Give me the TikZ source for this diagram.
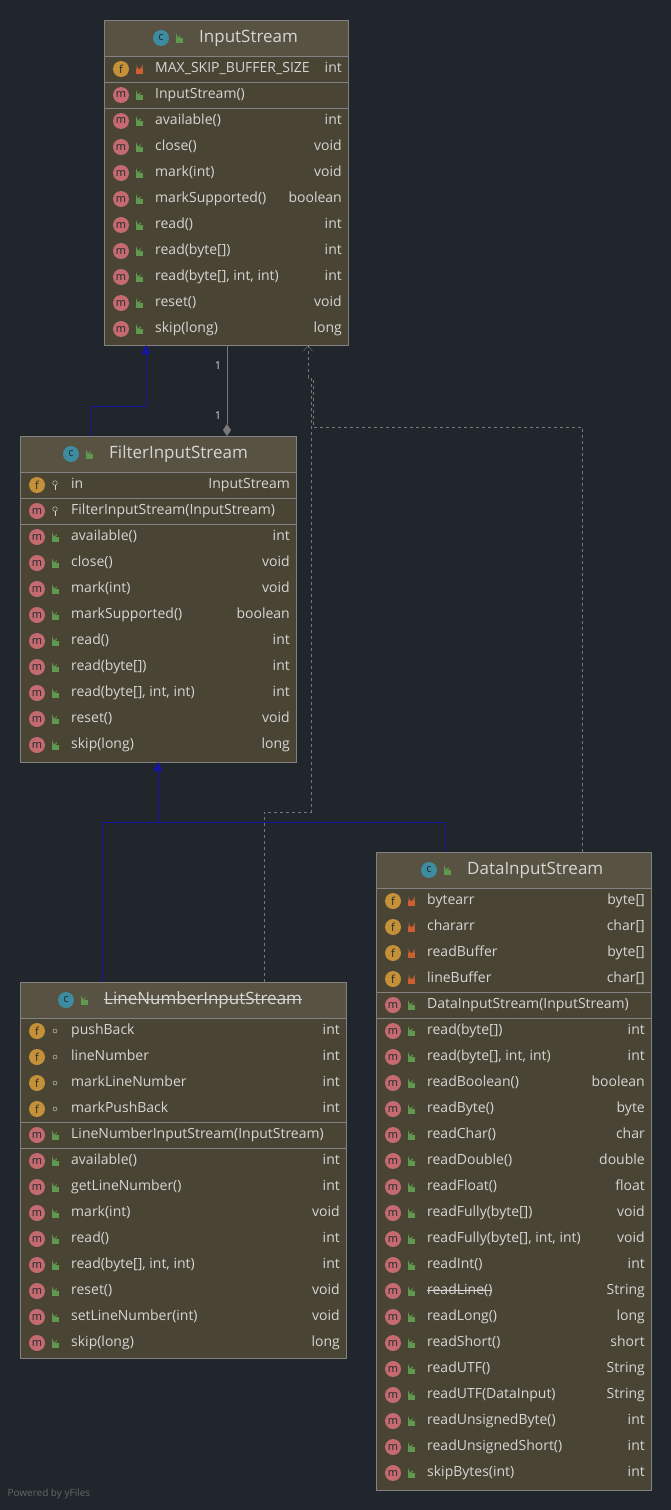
\documentclass[tikz,border=0pt]{standalone}
\usepackage{fontspec}
\setmainfont{Open Sans}
\usetikzlibrary{arrows.meta}
\definecolor{bgcol}{RGB}{33,38,44}
\definecolor{boxcol}{RGB}{73,68,52}
\definecolor{headcol}{RGB}{88,82,66}
\definecolor{rulecol}{RGB}{130,130,130}
\definecolor{txtcol}{RGB}{214,214,214}
\definecolor{mcol}{RGB}{196,106,112}
\definecolor{fcol}{RGB}{196,144,56}
\definecolor{ccol}{RGB}{62,140,160}
\definecolor{pubcol}{RGB}{96,152,80}
\definecolor{privcol}{RGB}{204,96,48}
\definecolor{inhcol}{RGB}{20,20,160}
\definecolor{depcol}{RGB}{120,120,120}
\tikzset{umlbox/.style={draw=rulecol,fill=boxcol}}
\tikzset{rowtext/.style={text=txtcol,font=\fontsize{14}{16}\selectfont,inner sep=0pt,text height=10pt,text depth=3pt}}
\tikzset{headtext/.style={text=txtcol,font=\fontsize{17}{19}\selectfont,inner sep=0pt,text height=12pt,text depth=4pt}}
\tikzset{inherit/.style={draw=inhcol,-{Triangle[length=9pt,width=9pt]}}}
\tikzset{depend/.style={draw=depcol,dashed,-{Straight Barb[length=6pt,width=9pt]}}}
% comma inside loop items
\newcommand{\cma}{,}
% struck-through text
\newsavebox\strkbox
\newcommand{\strk}[1]{\sbox\strkbox{#1}\rlap{\usebox\strkbox}\rule[0.5ex]{\wd\strkbox}{0.8pt}}
% icon: circle with letter
\newcommand{\umlicon}[4]{%
  \fill[#3] ({#1},{#2}) circle (8);
  \node[text=bgcol,font=\fontsize{11}{11}\selectfont,inner sep=0pt] at ({#1},{#2}) {#4};}
% access marks
\newcommand{\accpub}[2]{%
  \fill[pubcol] ({#1-3},{#2}) rectangle ({#1+4},{#2+5});
  \draw[pubcol,line width=1pt] ({#1-2.5},{#2}) -- ({#1-2.5},{#2-2.5}) arc (180:0:2);}
\newcommand{\accpriv}[2]{%
  \fill[privcol] ({#1-3},{#2}) rectangle ({#1+4},{#2+5});
  \draw[privcol,line width=1pt] ({#1-2},{#2}) -- ({#1-2},{#2-2}) arc (180:0:2.5) -- ({#1+3},{#2});}
\newcommand{\accpkg}[2]{\draw[txtcol] ({#1},{#2}) circle (2);}
\newcommand{\accprot}[2]{%
  \draw[txtcol] ({#1},{#2-2}) circle (2.3); \draw[txtcol] ({#1},{#2}) -- ({#1},{#2+5});}
% one member row: x0, x1, y, letter, colour, access, name, type
\newcommand{\umlrow}[8]{%
  \umlicon{#1+17}{#3}{#5}{#4}
  \csname acc#6\endcsname{#1+35}{#3}
  \node[rowtext,anchor=west] at ({#1+51},{#3}) {#7};
  \node[rowtext,anchor=east] at ({#2-6},{#3}) {#8};}
\newcommand{\umlsep}[3]{\draw[rulecol] (#1,#3) -- (#2,#3);}

\begin{document}
\begin{tikzpicture}[x=1pt,y=-1pt]
  \fill[bgcol] (0,0) rectangle (671,1510);
  \useasboundingbox (0,0) rectangle (671,1510);

  % InputStream
  \draw[umlbox] (104,20) rectangle (348,345);
  \draw[draw=rulecol,fill=headcol] (104,20) rectangle (348,56);
  \umlicon{161}{38}{ccol}{c} \accpub{179}{38}
  \node[headtext,anchor=west] (is) at (199,38) {InputStream};
  \umlrow{104}{348}{69}{f}{fcol}{priv}{MAX\_SKIP\_BUFFER\_SIZE}{int}
  \umlsep{104}{348}{82}
  \umlrow{104}{348}{95}{m}{mcol}{pub}{InputStream()}{}
  \umlsep{104}{348}{108}
  \foreach \nm/\ty [count=\i] in {available()/int,close()/void,mark(int)/void,
      markSupported()/boolean,read()/int,read(byte[])/int,read(byte[]\cma{} int\cma{} int)/int,
      reset()/void,skip(long)/long}
    {\pgfmathsetmacro\yy{108+(\i-0.5)*26}
     \umlrow{104}{348}{\yy}{m}{mcol}{pub}{\nm}{\ty}}

  % FilterInputStream
  \draw[umlbox] (20,436) rectangle (296,762);
  \draw[draw=rulecol,fill=headcol] (20,436) rectangle (296,472);
  \umlicon{71}{454}{ccol}{c} \accpub{89}{454}
  \node[headtext,anchor=west] (fis) at (109,454) {FilterInputStream};
  \umlrow{20}{296}{485}{f}{fcol}{prot}{in}{InputStream}
  \umlsep{20}{296}{498}
  \umlrow{20}{296}{511}{m}{mcol}{prot}{FilterInputStream(InputStream)}{}
  \umlsep{20}{296}{524}
  \foreach \nm/\ty [count=\i] in {available()/int,close()/void,mark(int)/void,
      markSupported()/boolean,read()/int,read(byte[])/int,read(byte[]\cma{} int\cma{} int)/int,
      reset()/void,skip(long)/long}
    {\pgfmathsetmacro\yy{524+(\i-0.5)*26}
     \umlrow{20}{296}{\yy}{m}{mcol}{pub}{\nm}{\ty}}

  % LineNumberInputStream
  \draw[umlbox] (20,982) rectangle (346,1358);
  \draw[draw=rulecol,fill=headcol] (20,982) rectangle (346,1018);
  \umlicon{66}{1000}{ccol}{c} \accpub{84}{1000}
  \node[headtext,anchor=west] (lnis) at (104,1000) {\strk{LineNumberInputStream}};
  \foreach \nm [count=\i] in {pushBack,lineNumber,markLineNumber,markPushBack}
    {\pgfmathsetmacro\yy{1018+(\i-0.5)*26}
     \umlrow{20}{346}{\yy}{f}{fcol}{pkg}{\nm}{int}}
  \umlsep{20}{346}{1122}
  \umlrow{20}{346}{1135}{m}{mcol}{pub}{LineNumberInputStream(InputStream)}{}
  \umlsep{20}{346}{1148}
  \foreach \nm/\ty [count=\i] in {available()/int,getLineNumber()/int,mark(int)/void,
      read()/int,read(byte[]\cma{} int\cma{} int)/int,reset()/void,setLineNumber(int)/void,skip(long)/long}
    {\pgfmathsetmacro\yy{1148+(\i-0.5)*26}
     \umlrow{20}{346}{\yy}{m}{mcol}{pub}{\nm}{\ty}}

  % DataInputStream
  \draw[umlbox] (376,852) rectangle (651,1490);
  \draw[draw=rulecol,fill=headcol] (376,852) rectangle (651,888);
  \umlicon{429}{870}{ccol}{c} \accpub{447}{870}
  \node[headtext,anchor=west] (dis) at (467,870) {DataInputStream};
  \foreach \nm/\ty [count=\i] in {bytearr/byte[],chararr/char[],readBuffer/byte[],lineBuffer/char[]}
    {\pgfmathsetmacro\yy{888+(\i-0.5)*26}
     \umlrow{376}{651}{\yy}{f}{fcol}{priv}{\nm}{\ty}}
  \umlsep{376}{651}{992}
  \umlrow{376}{651}{1005}{m}{mcol}{pub}{DataInputStream(InputStream)}{}
  \umlsep{376}{651}{1018}
  \foreach \nm/\ty [count=\i] in {read(byte[])/int,read(byte[]\cma{} int\cma{} int)/int,
      readBoolean()/boolean,readByte()/byte,readChar()/char,readDouble()/double,
      readFloat()/float,readFully(byte[])/void,readFully(byte[]\cma{} int\cma{} int)/void,
      readInt()/int,\strk{readLine()}/String,readLong()/long,readShort()/short,
      readUTF()/String,readUTF(DataInput)/String,readUnsignedByte()/int,
      readUnsignedShort()/int,skipBytes(int)/int}
    {\pgfmathsetmacro\yy{1018+(\i-0.5)*26}
     \umlrow{376}{651}{\yy}{m}{mcol}{pub}{\nm}{\ty}}

  % connector anchors
  \coordinate (isA) at (146,345);
  \coordinate (isB) at (227,345);
  \coordinate (isC) at (308,345);
  \coordinate (fisA) at (90,436);
  \coordinate (fisB) at (227,436);
  \coordinate (fisC) at (158,762);
  \coordinate (lnisA) at (102,982);
  \coordinate (lnisB) at (264,982);
  \coordinate (disA) at (444,852);
  \coordinate (disB) at (582,852);

  % inheritance
  \draw[inherit] (fisA) -- (90,406) -- (146,406) -- (isA);
  \draw[draw=inhcol] (lnisA) -- (102,822) -- (444,822) -- (disA);
  \draw[inherit] (158,822) -- (fisC);
  % composition
  \draw[depcol,-{Straight Barb[length=6pt,width=9pt]},{Diamond[length=12pt,width=8pt]}-] (fisB) -- (isB);
  \node[text=txtcol,font=\fontsize{11}{11}\selectfont] (one1) at (218,366) {1};
  \node[text=txtcol,font=\fontsize{11}{11}\selectfont] (one2) at (218,416) {1};
  % dependencies
  \draw[depend] (lnisB) -- (264,812) -- (311,812) -- (311,378) -- (308,378) -- (isC);
  \draw[depcol,dashed] (disB) -- (582,427) -- (313,427) -- (313,378);
  \node[text=rulecol!70!bgcol,font=\fontsize{10}{10}\selectfont,anchor=west] (pw) at (4,1494) {Powered by yFiles};
\end{tikzpicture}
\end{document}
